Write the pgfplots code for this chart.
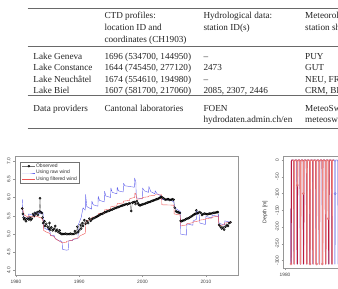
\documentclass[border=0pt]{standalone}
\usepackage{fontspec}
\setmainfont{Liberation Serif}
\setsansfont{Liberation Sans}
\usepackage{pgfplots}
\pgfplotsset{compat=1.18}

\definecolor{inkgray}{RGB}{35,35,35}
\definecolor{rulegray}{RGB}{105,105,105}
\definecolor{framegray}{RGB}{150,150,150}
\definecolor{obsline}{RGB}{115,115,115}
\definecolor{rawblue}{RGB}{95,95,235}
\definecolor{filtred}{RGB}{238,85,85}
\definecolor{deepred}{RGB}{185,25,60}
\definecolor{salmon}{RGB}{240,135,130}
\definecolor{mixblue}{RGB}{110,110,225}

\pgfplotsset{
  rplot/.style={
    scale only axis,
    axis line style={framegray, line width=0.5pt},
    tick style={framegray, line width=0.4pt},
    tick align=outside,
    major tick length=2pt,
    xtick pos=bottom, ytick pos=left,
    /pgf/number format/assume math mode=true,
    /pgf/number format/1000 sep={},
    ticklabel style={font=\sffamily\fontsize{4.8}{5}\selectfont, text=black!75, inner sep=0pt},
    xticklabel style={anchor=north},
    yticklabel style={rotate=90, anchor=south},
    xticklabel shift=2.5pt,
    yticklabel shift=2.5pt,
  }
}

\tikzset{tab/.style={anchor=base west, inner sep=0pt, text=inkgray,
  font=\fontsize{9.2}{11.5}\selectfont}}

\begin{document}
\begin{tikzpicture}
\useasboundingbox (0pt,0pt) rectangle (338pt,-289pt);

% ---- table of data sources ----
\draw[rulegray, line width=0.6pt] (27.5pt,-8.3pt) -- (360pt,-8.3pt);
\draw[rulegray, line width=0.5pt] (27.5pt,-46.3pt) -- (360pt,-46.3pt);
\draw[rulegray, line width=0.8pt] (27.5pt,-95.8pt) -- (360pt,-95.8pt);
\draw[rulegray, line width=0.6pt] (27.5pt,-128.3pt) -- (360pt,-128.3pt);

\node[tab] at (104.3pt,-18.5pt) {CTD profiles:};
\node[tab] at (104.3pt,-30.5pt) {location ID and};
\node[tab] at (104.3pt,-42.5pt) {coordinates (CH1903)};
\node[tab] at (203.3pt,-18.5pt) {Hydrological data:};
\node[tab] at (203.3pt,-30.5pt) {station ID(s)};
\node[tab] at (305pt,-18.5pt) {Meteorological data:};
\node[tab] at (305pt,-30.5pt) {station short names};

\node[tab] at (33.3pt,-59.5pt) {Lake Geneva};
\node[tab] at (33.3pt,-70.9pt) {Lake Constance};
\node[tab] at (33.3pt,-82.2pt) {Lake Neuchâtel};
\node[tab] at (33.3pt,-93.2pt) {Lake Biel};
\node[tab] at (104.3pt,-59.5pt) {1696 (534700, 144950)};
\node[tab] at (104.3pt,-70.9pt) {1644 (745450, 277120)};
\node[tab] at (104.3pt,-82.2pt) {1674 (554610, 194980)};
\node[tab] at (104.3pt,-93.2pt) {1607 (581700, 217060)};
\node[tab] at (203.3pt,-59.5pt) {–};
\node[tab] at (203.3pt,-70.9pt) {2473};
\node[tab] at (203.3pt,-82.2pt) {–};
\node[tab] at (203.3pt,-93.2pt) {2085, 2307, 2446};
\node[tab] at (305pt,-59.5pt) {PUY};
\node[tab] at (305pt,-70.9pt) {GUT};
\node[tab] at (305pt,-82.2pt) {NEU, FRE};
\node[tab] at (305pt,-93.2pt) {CRM, BIE};

\node[tab] at (33.3pt,-111.3pt) {Data providers};
\node[tab] at (104.3pt,-111.3pt) {Cantonal laboratories};
\node[tab] at (203.3pt,-111.3pt) {FOEN};
\node[tab] at (203.3pt,-122.3pt) {hydrodaten.admin.ch/en};
\node[tab] at (305pt,-111.3pt) {MeteoSwiss};
\node[tab] at (305pt,-122.3pt) {meteoswiss.admin.ch};

% ---- temperature time series ----
\begin{axis}[rplot,
  width=223pt, height=118.5pt,
  at={(15pt,-156.5pt)}, anchor=north west,
  xmin=1979.85, xmax=2015.08, ymin=3.88, ymax=7.12,
  xtick={1980,1990,2000,2010},
  ytick={4,4.5,5,5.5,6,6.5,7},
  yticklabel style={/pgf/number format/.cd, fixed, fixed zerofill, precision=1},
  legend cell align=left,
  legend style={at={(0.0224,0.956)}, anchor=north west,
    draw=black!55, line width=0.4pt, fill=white,
    font=\sffamily\fontsize{5}{5.5}\selectfont, text=black!80,
    inner xsep=2pt, inner ysep=1.2pt, row sep=0.5pt,
    nodes={inner sep=0.5pt}},
  legend image code/.code={\draw[mark repeat=2,mark phase=2,#1]
    plot coordinates {(0pt,0pt) (6.5pt,0pt) (13pt,0pt)};},
]
\addplot[obsline, line width=0.4pt, mark=o, mark size=1.0pt,
  mark options={black, line width=0.5pt}] coordinates {
(1981.0,5.70) (1981.1,5.55) (1981.2,5.45) (1981.3,5.40) (1981.5,5.42)
(1981.6,5.35) (1981.8,5.42) (1982.0,5.40) (1982.2,5.45) (1982.3,5.38)
(1982.5,5.42) (1982.7,5.55) (1982.9,5.50) (1983.0,5.58) (1983.2,5.55)
(1983.4,5.60) (1983.5,5.52) (1983.7,5.62) (1983.8,5.98) (1983.9,5.60)
(1984.1,5.58) (1984.2,5.45) (1984.3,5.30) (1984.5,5.35) (1984.6,5.22)
(1984.8,5.28) (1985.0,5.20) (1985.2,5.15) (1985.3,5.30) (1985.4,5.12)
(1985.6,5.18) (1985.8,5.10) (1986.0,5.14) (1986.2,5.22) (1986.3,5.08)
(1986.5,5.12) (1986.7,5.05) (1986.9,5.10) (1987.0,5.02) (1987.2,5.00)
(1987.4,5.00) (1987.6,5.00) (1987.8,5.01) (1988.0,5.00) (1988.2,5.00)
(1988.4,5.00) (1988.6,5.01) (1988.8,5.00) (1989.0,5.00) (1989.2,5.01)
(1989.3,5.08) (1989.5,5.02) (1989.7,5.20) (1989.8,5.05)
(1990.0,5.10) (1990.2,5.25) (1990.3,5.15) (1990.5,5.30) (1990.6,5.22)
(1990.8,5.38) (1991.0,5.28) (1991.2,5.35) (1991.4,5.30) (1991.6,5.42)
(1991.8,5.36) (1992.0,5.40) (1992.2,5.43) (1992.4,5.44) (1992.6,5.46)
(1992.8,5.48) (1993.0,5.50) (1993.2,5.52) (1993.4,5.54) (1993.6,5.55)
(1993.8,5.57) (1994.0,5.59) (1994.2,5.60) (1994.4,5.62) (1994.6,5.63)
(1994.8,5.64) (1995.0,5.66) (1995.2,5.67) (1995.4,5.69) (1995.6,5.70)
(1995.8,5.71) (1996.0,5.73) (1996.2,5.74) (1996.4,5.75) (1996.6,5.77)
(1996.8,5.78) (1997.0,5.79) (1997.2,5.80) (1997.4,5.82) (1997.6,5.81)
(1997.8,5.83) (1998.0,5.84) (1998.2,5.63) (1998.4,5.86) (1998.6,5.87)
(1998.8,5.88) (1998.9,5.82) (1999.1,5.90) (1999.3,5.84) (1999.4,5.80)
(1999.6,5.78) (1999.8,5.80) (2000.0,5.81) (2000.2,5.82) (2000.4,5.83)
(2000.6,5.85) (2000.8,5.86) (2001.0,5.87) (2001.2,5.88) (2001.4,5.90)
(2001.6,5.91) (2001.8,5.92) (2002.0,5.94) (2002.2,5.95) (2002.4,5.96)
(2002.6,5.98) (2002.8,6.00) (2002.9,6.02) (2003.1,6.00) (2003.3,5.98)
(2003.5,5.95) (2003.7,5.94) (2003.9,5.95) (2004.1,5.95) (2004.3,5.93)
(2004.5,5.94) (2004.7,5.95) (2004.9,5.94) (2005.1,5.72) (2005.3,5.62)
(2005.5,5.60) (2005.7,5.59) (2005.9,5.58) (2006.0,5.36) (2006.2,5.35)
(2006.4,5.37) (2006.6,5.38) (2006.8,5.40) (2007.0,5.42) (2007.2,5.43)
(2007.4,5.45) (2007.6,5.47) (2007.8,5.49) (2008.0,5.52) (2008.2,5.54)
(2008.3,5.55) (2008.5,5.65) (2008.6,5.56) (2008.8,5.58) (2009.0,5.60)
(2009.2,5.58) (2009.4,5.52) (2009.6,5.55) (2009.8,5.56) (2010.0,5.55)
(2010.2,5.54) (2010.4,5.55) (2010.6,5.56) (2010.8,5.56) (2011.0,5.57)
(2011.2,5.58) (2011.4,5.58) (2011.6,5.59) (2011.8,5.60) (2011.9,5.60)
(2012.1,5.25) (2012.3,5.20) (2012.5,5.15) (2012.7,5.18) (2012.9,5.12)
(2013.1,5.20) (2013.3,5.25) (2013.5,5.22) (2013.7,5.30) (2013.9,5.32)
};
\addlegendentry{Observed}
\addplot[rawblue, line width=0.4pt, line join=round] coordinates {
(1981.0,5.95) (1981.1,5.60) (1981.3,5.45) (1981.95,5.42)
(1982.0,5.55) (1982.95,5.50) (1983.0,5.60) (1983.95,5.55)
(1984.0,5.62) (1984.3,5.55) (1984.35,5.18) (1984.95,5.12)
(1985.0,5.15) (1985.4,5.05) (1985.45,4.97) (1985.95,4.95)
(1986.0,4.97) (1986.2,4.88) (1986.95,4.80)
(1987.0,4.82) (1987.3,4.78) (1987.35,4.58) (1987.95,4.56)
(1988.0,4.56) (1988.3,4.57) (1988.35,4.82) (1988.95,4.82)
(1989.0,4.85) (1989.8,4.88) (1989.85,5.25) (1990.3,5.45) (1990.6,5.72) (1990.95,5.65)
(1991.0,6.08) (1991.2,5.75) (1991.95,5.68)
(1992.0,5.90) (1992.2,5.80) (1992.95,5.76)
(1993.0,6.03) (1993.2,5.92) (1993.95,5.88)
(1994.0,6.17) (1994.2,6.04) (1994.95,6.00)
(1995.0,6.26) (1995.2,6.14) (1995.95,6.10)
(1996.0,6.28) (1996.2,6.18) (1996.95,6.15)
(1997.0,6.39) (1997.2,6.32) (1998.7,6.28)
(1998.75,6.53) (1998.95,6.42) (1999.0,5.99) (1999.95,5.96)
(2000.0,6.26) (2000.3,6.18) (2000.95,6.14)
(2001.0,6.30) (2001.3,6.16) (2001.95,6.10)
(2002.0,6.18) (2002.3,6.10) (2002.95,6.04)
(2003.0,5.95) (2003.95,5.93) (2004.0,5.96) (2004.95,5.88)
(2005.0,5.76) (2005.2,5.70) (2005.95,5.62)
(2006.0,5.00) (2006.95,4.97) (2007.0,5.28) (2007.95,5.24)
(2008.0,5.36) (2008.5,5.40) (2008.55,5.63) (2008.8,5.58) (2009.0,5.50)
(2009.05,5.30) (2009.95,5.26) (2010.0,5.48) (2010.95,5.44)
(2011.0,5.52) (2011.95,5.48) (2012.0,5.55) (2012.05,5.30) (2012.95,5.24)
(2013.0,5.36) (2013.9,5.32)
};
\addlegendentry{Using raw wind}
\addplot[filtred, line width=0.4pt, line join=round] coordinates {
(1981.0,5.72) (1981.3,5.52) (1981.95,5.46) (1982.0,5.50) (1982.95,5.46)
(1983.0,5.50) (1983.95,5.44) (1984.0,5.44) (1984.3,5.36) (1984.35,5.10) (1984.95,5.04)
(1985.0,5.05) (1985.4,5.00) (1985.45,4.96) (1985.95,4.94)
(1986.0,4.93) (1986.3,4.86) (1986.95,4.80) (1987.0,4.79) (1987.3,4.76) (1987.95,4.77)
(1988.0,4.80) (1988.95,4.83) (1989.0,4.86) (1989.95,4.90)
(1990.0,4.94) (1990.95,5.02) (1991.0,5.30) (1991.2,5.37) (1991.95,5.40)
(1992.0,5.46) (1992.95,5.48) (1993.0,5.56) (1993.95,5.58)
(1994.0,5.66) (1994.95,5.68) (1995.0,5.75) (1995.95,5.77)
(1996.0,5.83) (1996.95,5.85) (1997.0,5.90) (1997.95,5.92)
(1998.0,5.97) (1998.75,6.00) (1998.8,6.12) (1999.0,6.08)
(1999.05,5.95) (1999.95,5.97) (2000.0,6.00) (2000.95,6.02)
(2001.0,6.04) (2001.95,6.06) (2002.0,6.08) (2003.0,6.08)
(2003.05,5.80) (2004.95,5.79) (2005.0,5.55) (2005.95,5.52)
(2006.0,5.22) (2006.95,5.25) (2007.0,5.28) (2007.95,5.31)
(2008.0,5.33) (2008.95,5.36) (2009.0,5.38) (2009.95,5.40)
(2010.0,5.42) (2010.95,5.44) (2011.0,5.46) (2011.95,5.49)
(2012.0,5.50) (2012.05,5.22) (2012.95,5.26) (2013.0,5.30) (2013.9,5.32)
};
\addlegendentry{Using filtered wind}
\end{axis}

% ---- mixing depth time series ----
\begin{axis}[rplot,
  width=222pt, height=112pt,
  at={(283.5pt,-156pt)}, anchor=north west,
  xmin=1979.52, xmax=2050, ymin=-322, ymax=12,
  xtick={1980,2000,2020,2040},
  ytick={0,-50,-100,-150,-200,-250,-300},
  ylabel={Depth [m]},
  ylabel style={font=\sffamily\fontsize{5.2}{6}\selectfont, text=black!80,
    at={(axis description cs:-0.0833,0.5)}, anchor=center, rotate=0},
]
\addplot[mixblue, opacity=0.75, line width=0.8pt, line join=round] coordinates {
(1981.85,-145) (1981.87,-310) (1981.93,-310) (1981.97,-4) (1982.15,0) (1982.6,0)
(1982.76,-4) (1982.83,-310) (1982.89,-310) (1982.95,-4) (1983.15,0) (1983.6,0)
(1983.76,-4) (1983.83,-310) (1983.89,-310) (1983.95,-4) (1984.15,0) (1984.6,0)
(1984.76,-4) (1984.83,-310) (1984.89,-310) (1984.95,-4) (1985.15,0) (1985.6,0)
(1985.76,-4) (1985.83,-310) (1985.89,-310) (1985.95,-4) (1986.15,0) (1986.6,0)
(1986.76,-4) (1986.83,-310) (1986.89,-310) (1986.95,-4) (1987.15,0) (1987.6,0)
(1987.76,-4) (1987.83,-310) (1987.89,-310) (1987.95,-4) (1988.15,0) (1988.6,0)
(1988.76,-4) (1988.83,-310) (1988.89,-310) (1988.95,-4) (1989.15,0) (1989.6,0)
(1989.76,-4) (1989.83,-310) (1989.89,-310) (1989.95,-4) (1990.15,0) (1990.6,0)
(1990.76,-4) (1990.83,-310) (1990.89,-310) (1990.95,-4) (1991.15,0) (1991.6,0)
(1991.76,-4) (1991.83,-310) (1991.89,-310) (1991.95,-4) (1992.15,0) (1992.6,0)
(1992.76,-4) (1992.83,-310) (1992.89,-310) (1992.95,-4) (1993.15,0) (1993.6,0)
(1993.76,-4) (1993.83,-310) (1993.89,-310) (1993.95,-4) (1994.15,0) (1994.6,0)
(1994.76,-4) (1994.83,-310) (1994.89,-310) (1994.95,-4) (1995.15,0) (1995.6,0)
(1995.76,-4) (1995.83,-310) (1995.89,-310) (1995.95,-4) (1996.15,0) (1996.6,0)
(1996.76,-4) (1996.83,-310) (1996.89,-310) (1996.95,-4) (1997.15,0) (1997.6,0)
};
\addplot[deepred, line width=0.9pt, line join=round] coordinates {
(1981.9,-145) (1981.92,-310) (1981.98,-310) (1982.02,-4) (1982.2,0) (1982.6,0)
(1982.8,-4) (1982.88,-310) (1982.94,-310) (1983.0,-4) (1983.2,0) (1983.6,0)
(1983.8,-4) (1983.88,-310) (1983.94,-310) (1984.0,-4) (1984.2,0) (1984.6,0)
(1984.8,-4) (1984.88,-310) (1984.94,-310) (1985.0,-4) (1985.2,0) (1985.6,0)
(1985.8,-4) (1985.88,-310) (1985.94,-310) (1986.0,-4) (1986.2,0) (1986.6,0)
(1986.8,-4) (1986.88,-310) (1986.94,-310) (1987.0,-4) (1987.2,0) (1987.6,0)
(1987.8,-4) (1987.88,-310) (1987.94,-310) (1988.0,-4) (1988.2,0) (1988.6,0)
(1988.8,-4) (1988.88,-310) (1988.94,-310) (1989.0,-4) (1989.2,0) (1989.6,0)
(1989.8,-4) (1989.88,-310) (1989.94,-310) (1990.0,-4) (1990.2,0) (1990.6,0)
(1990.8,-4) (1990.88,-310) (1990.94,-310) (1991.0,-4) (1991.2,0) (1991.6,0)
(1991.8,-4) (1991.88,-310) (1991.94,-310) (1992.0,-4) (1992.2,0) (1992.6,0)
(1992.8,-4) (1992.88,-310) (1992.94,-310) (1993.0,-4) (1993.2,0) (1993.6,0)
(1993.8,-4) (1993.88,-310) (1993.94,-310) (1994.0,-4) (1994.2,0) (1994.6,0)
(1994.8,-4) (1994.88,-310) (1994.94,-310) (1995.0,-4) (1995.2,0) (1995.6,0)
};
\addplot[salmon, line width=0.8pt, line join=round] coordinates {
(1982.3,0) (1982.6,0)
(1982.86,-4) (1982.94,-310) (1983.0,-310) (1983.06,-4) (1983.25,0) (1983.6,0)
(1983.86,-4) (1983.9,-75) (1983.96,-75) (1984.06,-4) (1984.25,0) (1984.6,0)
(1984.86,-4) (1984.94,-310) (1985.0,-310) (1985.06,-4) (1985.25,0) (1985.6,0)
(1985.8,-4) (1985.84,-100) (1985.9,-100) (1986.06,-4) (1986.25,0) (1986.6,0)
(1986.86,-4) (1986.94,-310) (1987.0,-310) (1987.06,-4) (1987.25,0) (1987.6,0)
(1987.86,-4) (1987.94,-310) (1988.0,-310) (1988.06,-4) (1988.25,0) (1988.6,0)
(1988.86,-4) (1988.94,-310) (1989.0,-310) (1989.06,-4) (1989.25,0) (1989.6,0)
(1989.86,-4) (1989.94,-310) (1990.0,-310) (1990.06,-4) (1990.25,0) (1990.6,0)
(1990.86,-4) (1990.94,-310) (1991.0,-310) (1991.06,-4) (1991.25,0) (1991.6,0)
(1991.86,-4) (1991.94,-310) (1992.0,-310) (1992.06,-4) (1992.25,0) (1992.6,0)
(1992.86,-4) (1992.94,-310) (1993.0,-310) (1993.06,-4) (1993.25,0) (1993.6,0)
(1993.66,-4) (1993.7,-175) (1993.76,-175) (1993.86,-4) (1994.05,0) (1994.6,0)
(1994.86,-4) (1994.94,-310) (1995.0,-310) (1995.06,-4) (1995.25,0) (1995.4,0)
};
\addplot[only marks, mark=o, mark size=1.1pt, salmon!80!deepred,
  mark options={line width=0.4pt}] coordinates {
(1981.9,-310) (1983.9,-75) (1985.8,-100) (1987.9,-310) (1990.1,-310)
(1991.8,-310) (1993.7,-175)
};
\addplot[only marks, mark=o, mark size=1.1pt, mixblue,
  mark options={line width=0.4pt}] coordinates {(1995.9,-100)};
\end{axis}
\end{tikzpicture}
\end{document}
